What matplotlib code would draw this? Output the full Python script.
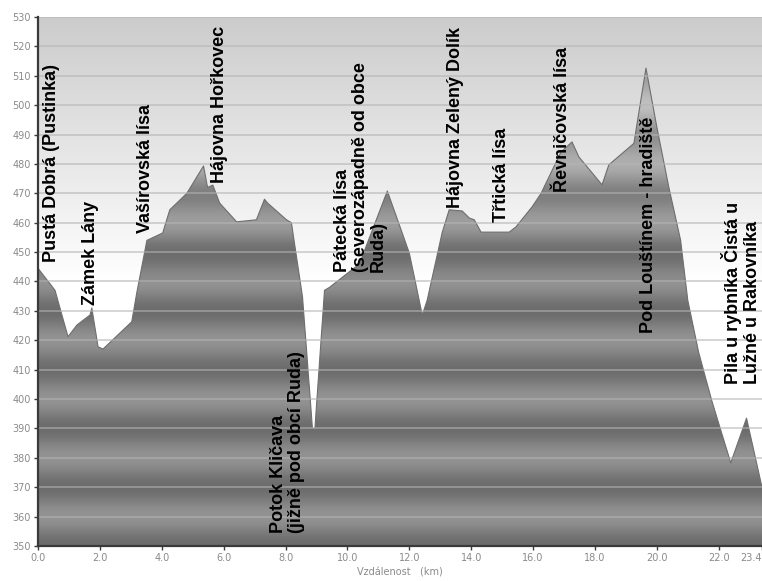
import numpy as np
import matplotlib
matplotlib.use('Agg')
import matplotlib.pyplot as plt
from matplotlib.patches import Polygon

# elevation profile (km, m a.s.l.)
dist_km = [0.0, 0.55, 0.97, 1.26, 1.68, 1.74, 1.94, 2.10, 3.03, 3.19, 3.52, 4.03,
           4.26, 4.81, 5.35, 5.48, 5.65, 5.87, 6.42, 7.06, 7.32, 7.42, 8.03, 8.19,
           8.55, 8.87, 8.95, 9.26, 9.42, 10.39, 11.29, 12.0, 12.42, 12.58, 13.06,
           13.29, 13.71, 13.94, 14.1, 14.32, 15.23, 15.45, 15.97, 16.26, 16.9,
           17.26, 17.48, 18.23, 18.45, 19.26, 19.65, 20.0, 20.39, 20.77, 21.0,
           21.35, 21.77, 22.39, 22.9, 23.4]
elev_m = [444.5, 437, 421.2, 425.2, 428.6, 431, 417.8, 417, 426.3, 436, 454, 456.5,
          464.4, 470, 479.3, 472, 472.8, 466.7, 460.3, 461, 468, 466.7, 461, 460,
          434.7, 390, 390, 437, 438, 446, 470.8, 449.7, 428.6, 433.7, 456.5,
          464.4, 464, 461.6, 461, 456.8, 456.8, 458.6, 465.4, 470, 484,
          487.5, 482.4, 472.9, 479.7, 487, 512.6, 492.6, 472, 454, 433.7,
          416, 399.7, 378.3, 393.5, 370]

# waypoint labels: (text, km, bottom of text in m)
waypoints = [
    ("Pustá Dobrá (Pustinka)", 0.45, 446.5),
    ("Zámek Lány", 1.71, 432),
    ("Vašírovská lísa", 3.48, 456.5),
    ("Hájovna Hořkovec", 5.87, 473.5),
    ("Potok Kličava\n(jižně pod obcí Ruda)", 8.06, 354.5),
    ("Pátecká lísa\n(severozápadně od obce\nRuda)", 10.42, 443.3),
    ("Hájovna Zelený Dolík", 13.5, 465),
    ("Třtická lísa", 14.97, 460.3),
    ("Řevničovská lísa", 16.94, 470.5),
    ("Pod Louštínem - hradiště", 19.74, 422.5),
    ("Pila u rybníka Čistá u\nLužné u Rakovníka", 22.72, 405),
]

xticks = [0, 2, 4, 6, 8, 10, 12, 14, 16, 18, 20, 22, 23.4]
ymin, ymax = 350, 530
xmax = 23.4

fig = plt.figure(figsize=(7.62, 5.81), dpi=100)
ax = fig.add_axes([38 / 762, 1 - 546 / 581, 724 / 762, 529 / 581])
ax.set_xlim(0, xmax)
ax.set_ylim(ymin, ymax)

# background gradient (grey at top, white lower down)
yy = np.linspace(ymax, ymin, 400)
bg = np.clip(0.80 + 0.20 * (ymax - yy) / 90, 0, 1)
bg_img = np.repeat(bg[:, None, None], 3, axis=2)
ax.imshow(bg_img, extent=[0, xmax, ymin, ymax], aspect='auto', zorder=0,
          interpolation='bilinear')

# fill gradient with horizontal banding
base = np.where(yy > 440, 0.47 + 0.24 * np.clip((yy - 440) / 70, 0, 1), 0.50)
band = 0.075 * np.cos(2 * np.pi * (yy - 380) / 20)
fv = np.clip(base + band, 0, 1)
fill_img = np.repeat(fv[:, None, None], 3, axis=2)
im = ax.imshow(fill_img, extent=[0, xmax, ymin, ymax], aspect='auto', zorder=1,
               interpolation='bilinear')
verts = [(dist_km[0], ymin)] + list(zip(dist_km, elev_m)) + [(dist_km[-1], ymin)]
patch = Polygon(verts, closed=True, facecolor='none', edgecolor='none')
ax.add_patch(patch)
im.set_clip_path(patch)
ax.plot(dist_km, elev_m, color='#6e6e6e', lw=0.8, zorder=2)

# grid
ax.set_yticks(range(ymin, ymax + 1, 10))
ax.set_xticks(xticks)
ax.set_xticklabels([f"{t:.1f}" for t in xticks])
ax.set_axisbelow(False)
ax.yaxis.grid(True, color='#b4b4b4', lw=1.3, alpha=0.6)
ax.xaxis.grid(False)

for s in ['top', 'right']:
    ax.spines[s].set_visible(False)
for s in ['left', 'bottom']:
    ax.spines[s].set_color('#3a3a3a')
    ax.spines[s].set_linewidth(1.6)
    ax.spines[s].set_zorder(4)
ax.tick_params(axis='both', direction='out', length=3, width=1, color='#3a3a3a',
               labelcolor='#8a8a8a', labelsize=7, pad=2)
for lbl in ax.get_xticklabels() + ax.get_yticklabels():
    lbl.set_family('DejaVu Sans')
ax.get_xticklabels()[-1].set_horizontalalignment('right')

ax.set_xlabel("Vzdálenost   (km)", fontsize=7, color='#8a8a8a', labelpad=3,
              family='DejaVu Sans')

for name, x, y in waypoints:
    ax.text(x, y, name, rotation=90, ha='center', va='bottom', ma='left',
            fontsize=13, fontweight='bold', family='Liberation Sans',
            color='black', linespacing=1.1, zorder=5, clip_on=False)

fig.savefig('out.png', dpi=100)
